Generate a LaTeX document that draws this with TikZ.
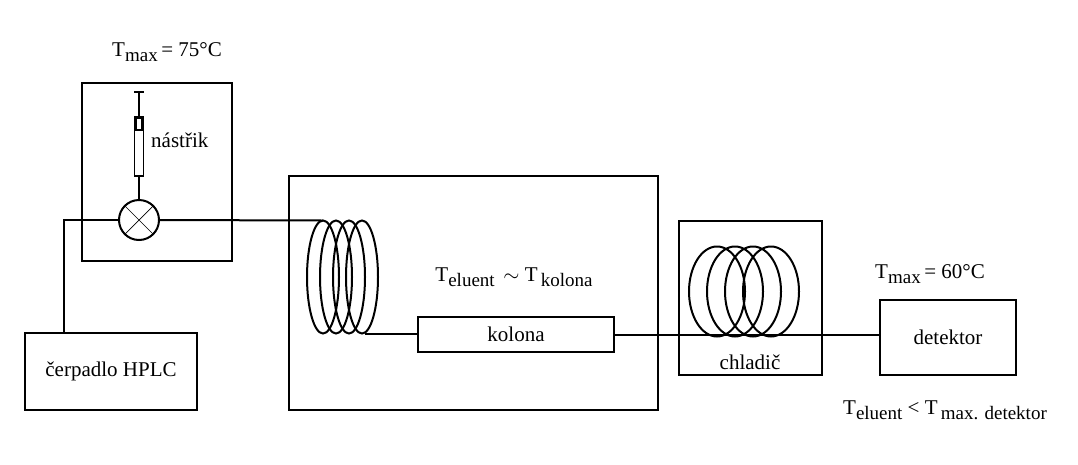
\documentclass[tikz,border=0pt]{standalone}
\usepackage{fontspec}
\setmainfont{Liberation Serif}
\usetikzlibrary{positioning}
\newcommand{\lowtxt}[1]{\raisebox{-5pt}{\fontsize{19}{21}\selectfont #1}}
\tikzset{
  box/.style={draw, line width=2pt, inner sep=0pt, font=\fontsize{21}{23}\selectfont},
  pipe/.style={line width=2pt},
  lbl/.style={font=\fontsize{21}{23}\selectfont, inner sep=0pt}
}
\begin{document}
\begin{tikzpicture}[x=1pt, y=-1pt]
\useasboundingbox (0,0) rectangle (1078,464);

% Boxes
\node[box, minimum width=150pt, minimum height=178pt] (inj) at (157,172) {};
\node[box, minimum width=172pt, minimum height=77pt] (pump) at (111,371.5) {čerpadlo HPLC};
\node[box, minimum width=369pt, minimum height=234pt] (oven) at (473.5,293) {};
\node[box, minimum width=196pt, minimum height=35pt] (kol) at (516,334.5) {kolona};
\node[box, minimum width=143pt, minimum height=154pt] (cool) at (750.5,298) {};
\node[box, minimum width=136pt, minimum height=75pt] (det) at (948,337.5) {detektor};

% Injection valve and syringe
\node[draw, circle, line width=2pt, minimum size=40pt, inner sep=0pt] (valve) at (139,220) {};
\draw[line width=0.7pt] (valve.north east) -- (valve.south west) (valve.north west) -- (valve.south east);
\node[draw, line width=1.2pt, minimum width=9pt, minimum height=59pt, inner sep=0pt] (syr) at (139,146.5) {};
\node[draw, line width=1.2pt, minimum width=6pt, minimum height=12pt, inner sep=0pt] (plunger) at (139,124) {};
\coordinate (syrtop) at (139,92);
\draw[pipe] (syr.south) -- (valve.north);
\draw[pipe] (syrtop) -- (plunger.north);
\draw[pipe] (134,92) -- (144,92);
\node[lbl, anchor=west] (nastrik) at (151,140) {nástřik};

% Coil in oven
\foreach \cx in {323,336,349,362}
  \draw[pipe] (\cx,277) ellipse [x radius=16, y radius=56.5];
\coordinate (coilin) at (323,220.5);
\coordinate (coilout) at (365,333.5);
% Coil in cooler
\foreach \cx in {717,735,753,771}
  \draw[pipe] (\cx,291.5) ellipse [x radius=28, y radius=45];

% Pipes
\coordinate (bend) at (64,220);
\draw[pipe] (valve.west) -- (bend) -- (bend |- pump.north);
\draw[pipe] (valve.east) -- (coilin);
\draw[pipe] (coilout) -- (coilout -| kol.west);
\draw[pipe] (kol.east) -- (kol.east -| det.west);

% Labels
\node[lbl] (tinj) at (167,52) {T\lowtxt{max}\,= 75°C};
\node[lbl] (tkol) at (514,277) {T\lowtxt{eluent} \,$\sim$ T\lowtxt{\,kolona}};
\node[lbl] (chl) at (750,362) {chladič};
\node[lbl] (tdet) at (930,274) {T\lowtxt{max}\,= 60°C};
\node[lbl] (tcmp) at (945,410) {T\lowtxt{eluent} < T\lowtxt{\,max. detektor}};
\end{tikzpicture}
\end{document}
